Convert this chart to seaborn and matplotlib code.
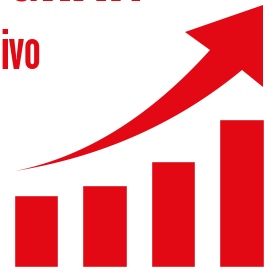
import numpy as np
import pandas as pd
import matplotlib
matplotlib.use("Agg")
import matplotlib.pyplot as plt
import seaborn as sns
from matplotlib.patches import Polygon
from matplotlib.font_manager import FontProperties
from matplotlib.textpath import TextPath

# Data
categories = ["A", "B", "C", "D"]
values = [72, 82, 106, 148]
title_text = "GRAN"
subtitle_text = "ivo"

RED = "#E20914"
FONT = "League Gothic"

sns.set_theme(style="white")
plt.rcParams["font.family"] = [FONT, "DejaVu Sans"]

DPI = 100
fig = plt.figure(figsize=(2.76, 2.73), dpi=DPI)
fig.patch.set_facecolor("white")

ax = fig.add_axes([0, 0, 1, 1])
df = pd.DataFrame({"cat": categories, "val": values})
sns.barplot(data=df, x="cat", y="val", color=RED, saturation=1, width=0.65, ax=ax)
ax.set_xlim(-36 / 68.5, (276 - 36) / 68.5)
ax.set_ylim(-6, 267)
ax.axis("off")

# Overlay in pixel coordinates for the decorative arrow and text
ax2 = fig.add_axes([0, 0, 1, 1])
ax2.set_xlim(0, 276)
ax2.set_ylim(273, 0)
ax2.axis("off")
ax2.patch.set_alpha(0)

def qbez(p0, c, p2, n=60):
    t = np.linspace(0, 1, n)[:, None]
    p0, c, p2 = map(np.array, (p0, c, p2))
    return (1 - t) ** 2 * p0 + 2 * t * (1 - t) * c + t ** 2 * p2

upper = qbez((15, 171), (120, 150), (210, 50))
lower = qbez((15, 171), (145, 150), (242, 70))
head = np.array([(185, 32), (263, 5), (263, 87)])
pts = np.vstack([upper, head, lower[::-1]])
ax2.add_patch(Polygon(pts, closed=True, facecolor=RED, edgecolor="none"))

fp = FontProperties(family=FONT)
xh = TextPath((0, 0), "x", size=1, prop=fp).get_extents().height
sub_pt = 1.12 * 26 / xh * 72 / DPI
ax2.text(0, 69, subtitle_text, color=RED, fontsize=sub_pt,
         family=[FONT, "DejaVu Sans"], ha="left", va="baseline")

tw = TextPath((0, 0), title_text, size=1, prop=fp).get_extents().width
title_pt = 131 / tw * 72 / DPI
ax2.text(7, 1, title_text, color=RED, fontsize=title_pt,
         family=[FONT, "DejaVu Sans"], ha="left", va="baseline")

fig.savefig("out.png", dpi=DPI, facecolor="white")
